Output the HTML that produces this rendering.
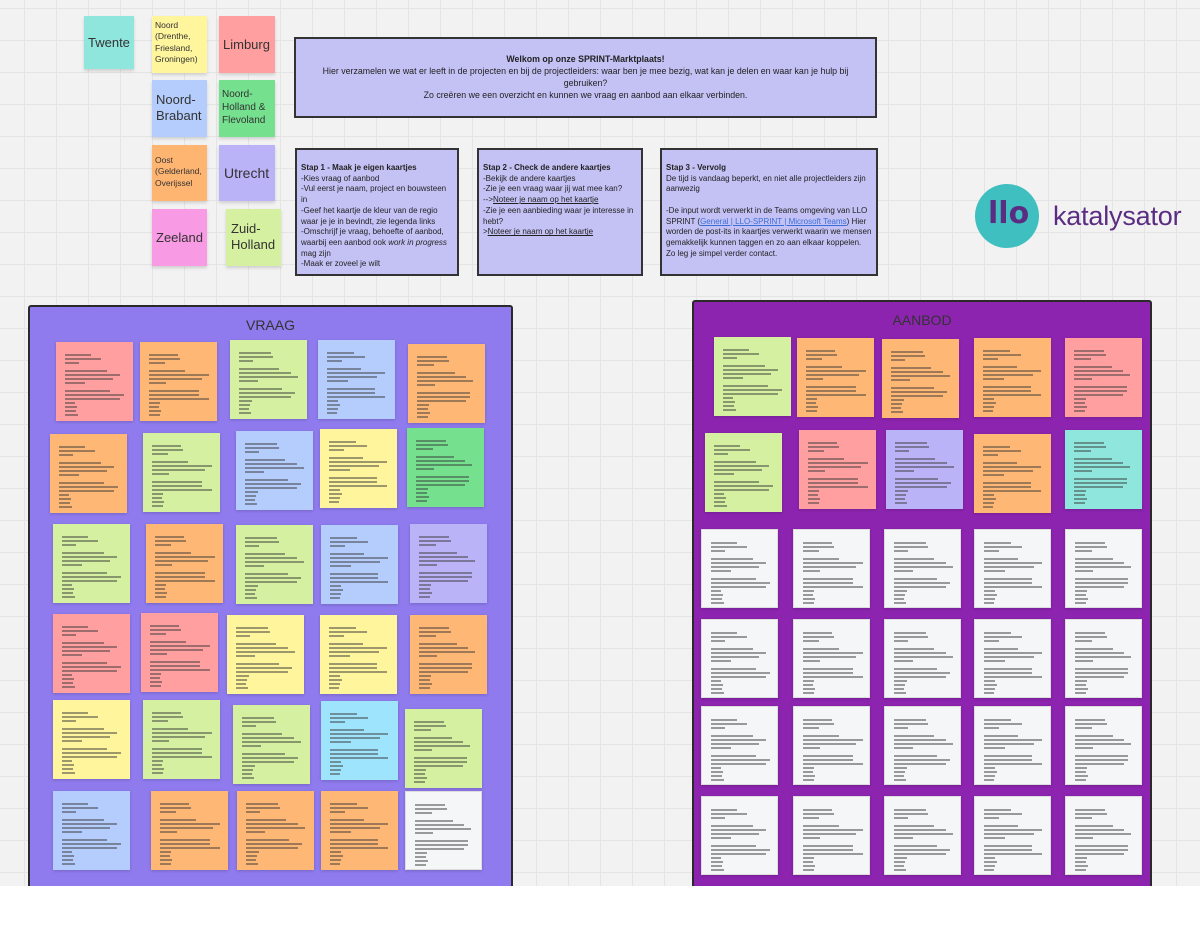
<!DOCTYPE html>
<html><head><meta charset="utf-8"><style>
*{margin:0;padding:0;box-sizing:border-box}
body{width:1200px;height:936px;overflow:hidden;background:#fff;font-family:"Liberation Sans","DejaVu Sans",sans-serif;position:relative}
#canvas{position:absolute;left:0;top:0;width:1200px;height:886px;background-color:#f2f2f2;background-image:linear-gradient(#e4e4e4 1px,transparent 1px),linear-gradient(90deg,#e4e4e4 1px,transparent 1px);background-size:32px 32px;background-position:-8px 8px}
.a{position:absolute}
.st{position:absolute;box-shadow:0 2px 3px rgba(0,0,0,.15);color:#333;overflow:hidden}
.lg{font-size:13px;line-height:1.25;padding:12px 4px 0 4px}
.sm{font-size:8.5px;line-height:1.35;padding:4px 3px}
.box{position:absolute;background:#c4c2f5;border:2px solid #333;font-size:8px;line-height:1.34;color:#222;padding:13px 4px 4px 4px;overflow:hidden}
.box b{font-weight:bold}
.box u{text-decoration:underline}
.frame{position:absolute;border:2px solid #2a2a2a;border-radius:3px}
.ft{position:absolute;width:100%;text-align:center;font-size:14px;color:#333}
.c{position:absolute;box-shadow:0 1px 3px rgba(0,0,0,.18);overflow:hidden}
.c i{position:absolute;left:9px;height:1.5px;background:rgba(60,60,60,.5)}
</style></head><body>
<div id="canvas"></div>

<div class="st lg" style="left:84px;top:16px;width:50px;height:53px;background:#8ee6dc;font-size:13px;padding:19px 0 0 4px">Twente</div>
<div class="st sm" style="left:152px;top:16px;width:55px;height:57px;background:#fff59d">Noord (Drenthe, Friesland, Groningen)</div>
<div class="st lg" style="left:219px;top:16px;width:56px;height:57px;background:#ff9fa0;padding-top:21px">Limburg</div>
<div class="st lg" style="left:152px;top:80px;width:55px;height:57px;background:#b4cdfc">Noord-Brabant</div>
<div class="st" style="left:219px;top:80px;width:56px;height:57px;background:#75e08e;font-size:10px;line-height:1.3;padding:8px 3px">Noord-Holland &amp; Flevoland</div>
<div class="st sm" style="left:152px;top:145px;width:55px;height:56px;background:#ffb572;padding-top:10px">Oost (Gelderland, Overijssel</div>
<div class="st lg" style="left:219px;top:145px;width:56px;height:56px;background:#bbb3f7;font-size:14px;padding:20px 0 0 5px">Utrecht</div>
<div class="st lg" style="left:152px;top:209px;width:55px;height:57px;background:#f99be4;padding:21px 0 0 4px">Zeeland</div>
<div class="st lg" style="left:226px;top:209px;width:55px;height:57px;background:#d5f0a0;padding:12px 0 0 5px">Zuid-Holland</div>

<div class="box" style="left:294px;top:37px;width:583px;height:81px;text-align:center;padding:15px 8px 0 8px;font-size:8.8px;line-height:1.36"><b>Welkom op onze SPRINT-Marktplaats!</b><br>Hier verzamelen we wat er leeft in de projecten en bij de projectleiders: waar ben je mee bezig, wat kan je delen en waar kan je hulp bij gebruiken?<br>Zo creëren we een overzicht en kunnen we vraag en aanbod aan elkaar verbinden.</div>

<div class="box" style="left:295px;top:148px;width:164px;height:128px"><b>Stap 1 - Maak je eigen kaartjes</b><br>-Kies vraag of aanbod<br>-Vul eerst je naam, project en bouwsteen in<br>-Geef het kaartje de kleur van de regio waar je je in bevindt, zie legenda links<br>-Omschrijf je vraag, behoefte of aanbod, waarbij een aanbod ook <i>work in progress</i> mag zijn<br>-Maak er zoveel je wilt</div>
<div class="box" style="left:477px;top:148px;width:166px;height:128px"><b>Stap 2 - Check de andere kaartjes</b><br>-Bekijk de andere kaartjes<br>-Zie je een vraag waar jij wat mee kan?<br>--&gt;<u>Noteer je naam op het kaartje</u><br>-Zie je een aanbieding waar je interesse in hebt?<br>&gt;<u>Noteer je naam op het kaartje</u></div>
<div class="box" style="left:660px;top:148px;width:218px;height:128px"><b>Stap 3 - Vervolg</b><br>De tijd is vandaag beperkt, en niet alle projectleiders zijn aanwezig<br><br>-De input wordt verwerkt in de Teams omgeving van LLO SPRINT (<u style="color:#3b6fd8">General | LLO-SPRINT | Microsoft Teams</u>) Hier worden de post-its in kaartjes verwerkt waarin we mensen gemakkelijk kunnen taggen en zo aan elkaar koppelen. Zo leg je simpel verder contact.</div>

<div class="a" style="left:975px;top:184px;width:64px;height:64px;border-radius:50%;background:#3fbfc0"></div>
<div class="a" style="left:988px;top:194px;font-size:30px;font-weight:bold;color:#5b2d82;line-height:40px;font-family:'DejaVu Sans',sans-serif">llo</div>
<div class="a" style="left:1053px;top:200px;font-size:27px;color:#5b2d82;line-height:32px;letter-spacing:-0.2px">katalysator</div>

<div class="frame" style="left:28px;top:305px;width:485px;height:600px;background:#8f7bee"><div class="ft" style="top:10px">VRAAG</div></div>
<div class="frame" style="left:692px;top:300px;width:460px;height:605px;background:#8d24b0"><div class="ft" style="top:10px">AANBOD</div></div>
<div id="cards"></div>
<div class="a" style="left:0;top:886px;width:1200px;height:50px;background:#fff"></div>

<script>
var C={r:'#ff9fa0',o:'#ffb775',g:'#d5f0a0',b:'#b4cdfc',y:'#fff59d',G:'#75e08e',p:'#bbb3f7',c:'#9fe4fd',t:'#8ee6dc',w:'#f5f6f8'};
var cards=[
[56,342,'r'],[140,342,'o'],[230,340,'g'],[318,340,'b'],[408,344,'o'],
[50,434,'o'],[143,433,'g'],[236,431,'b'],[320,429,'y'],[407,428,'G'],
[53,524,'g'],[146,524,'o'],[236,525,'g'],[321,525,'b'],[410,524,'p'],
[53,614,'r'],[141,613,'r'],[227,615,'y'],[320,615,'y'],[410,615,'o'],
[53,700,'y'],[143,700,'g'],[233,705,'g'],[321,701,'c'],[405,709,'g'],
[53,791,'b'],[151,791,'o'],[237,791,'o'],[321,791,'o'],[405,791,'w'],
[714,337,'g'],[797,338,'o'],[882,339,'o'],[974,338,'o'],[1065,338,'r'],
[705,433,'g'],[799,430,'r'],[886,430,'p'],[974,434,'o'],[1065,430,'t']];
var xs=[701,793,884,974,1065],ys=[529,619,706,796];
ys.forEach(function(y){xs.forEach(function(x){cards.push([x,y,'w'])})});
var pat=[[12,30],[16,36],[20,16],[28,40],[32,58],[36,56],[40,20],[48,50],[52,56],[56,58],[60,12],[64,12],[68,12],[72,12]];
var h='';
cards.forEach(function(k,i){
 var inner='';
 pat.forEach(function(p,j){var w=p[1]*(0.85+((i*7+j*3)%5)*0.05);if(w>60)w=60;inner+='<i style="top:'+p[0]+'px;width:'+w.toFixed(0)+'px"></i>';});
 h+='<div class="c" style="left:'+k[0]+'px;top:'+k[1]+'px;width:77px;height:79px;background:'+C[k[2]]+(k[2]=='w'?';border:1px solid #ddd':'')+'">'+inner+'</div>';
});
document.getElementById('cards').innerHTML=h;
</script>
</body></html>
